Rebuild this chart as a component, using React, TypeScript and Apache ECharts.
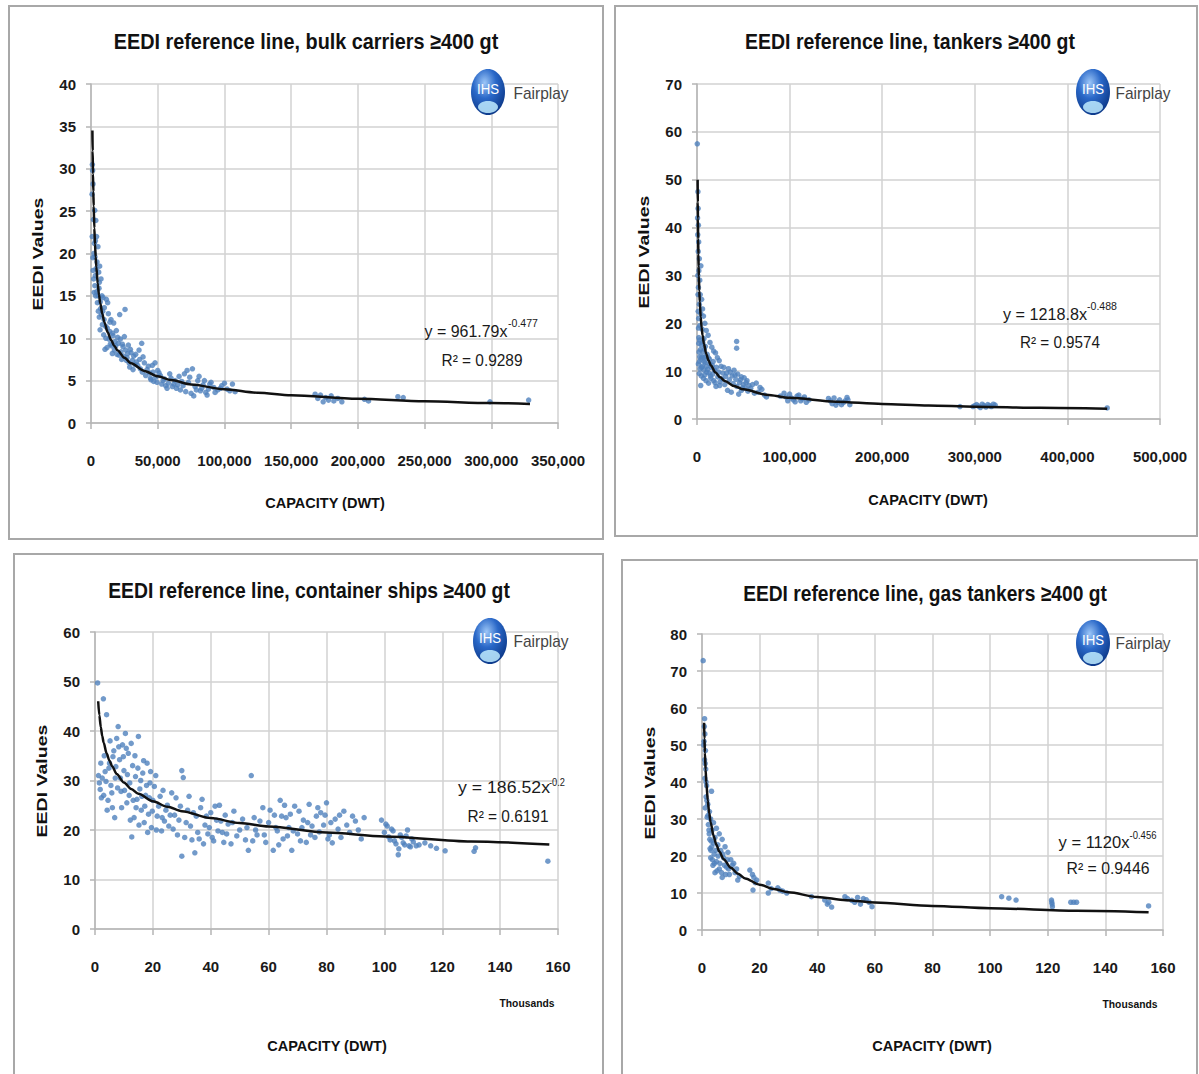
import React, { useEffect, useRef } from 'react';
import * as echarts from 'echarts';

// ---------- DATA ----------
const bulkPoints: [number, number][] = [
  [800, 27.0], [1000, 30.5], [1200, 29.8], [1500, 28.2], [1600, 18.0], [1800, 24.0], [2200, 20.0], [2500, 21.2],
  [2800, 25.1], [2900, 16.2], [3000, 19.6], [3200, 17.4], [3500, 15.0], [3600, 23.9], [4200, 22.0], [4300, 15.5],
  [4500, 19.0], [5200, 20.8], [5800, 17.8], [6000, 15.9], [6500, 18.5], [7000, 14.3], [7500, 17.0], [8200, 15.0],
  [9000, 14.8], [10000, 13.6], [11500, 14.6], [12500, 14.2], [13000, 12.9], [15000, 12.2], [17000, 11.8],
  [21500, 12.8], [25500, 13.4], [11000, 11.4], [14000, 10.8], [16500, 10.3], [19000, 10.9], [10500, 8.7],
  [12000, 8.9], [14500, 9.3], [18000, 9.6], [20000, 10.1], [22000, 9.9], [24000, 9.0], [26000, 8.6], [28000, 9.2],
  [16000, 8.2], [21000, 8.0], [23000, 7.5], [27000, 7.7], [30000, 8.3], [32000, 7.9], [34000, 7.2], [36000, 8.6],
  [38000, 9.4], [29000, 6.6], [31500, 6.3], [33000, 6.9], [37000, 6.4], [40000, 7.1], [42000, 6.3], [44000, 5.9],
  [46000, 6.8], [48000, 7.1], [50000, 6.2], [45000, 5.1], [47000, 4.9], [52000, 5.6], [54000, 5.0], [56000, 4.4],
  [58000, 4.7], [60000, 5.3], [62000, 4.6], [64000, 4.1], [66000, 5.5], [68000, 4.9], [70000, 5.8], [72000, 6.2],
  [74000, 5.4], [76000, 6.4], [77000, 3.2], [78000, 4.3], [80000, 5.0], [82000, 3.8], [84000, 4.5], [86000, 3.6],
  [88000, 4.0], [90000, 4.8], [92000, 4.2], [95000, 3.9], [98000, 4.4], [102000, 4.0], [106000, 4.6], [108000, 3.7],
  [5500, 13.2], [6200, 12.5], [6800, 11.0], [7800, 12.8], [8500, 11.6], [9500, 10.4], [9800, 12.2], [11200, 10.0],
  [12200, 11.2], [13500, 9.9], [14200, 11.9], [15500, 9.1], [16200, 10.6], [17500, 8.6], [18500, 9.1],
  [19500, 8.1], [20500, 9.4], [22500, 8.4], [23500, 9.3], [24500, 7.9], [25000, 10.2], [26500, 7.4], [27500, 8.2],
  [28500, 7.1], [29500, 8.7], [31000, 7.4], [33500, 8.1], [35000, 6.8], [36500, 7.5], [38500, 6.0], [39000, 7.8],
  [41000, 5.6], [43000, 6.7], [44500, 5.3], [46500, 6.0], [48500, 5.4], [49500, 4.8], [51000, 5.9], [53000, 4.6],
  [55000, 5.2], [57000, 4.1], [59000, 5.8], [61000, 4.3], [63000, 5.0], [65000, 4.5], [67000, 3.9], [69000, 4.4],
  [71000, 3.7], [73000, 4.8], [75000, 3.5], [79000, 3.9], [81000, 5.5], [83000, 4.1], [85000, 5.0], [87000, 3.3],
  [89000, 4.6], [93000, 3.6], [97000, 4.1], [100000, 4.7], [104000, 3.8],
  [900, 22.0], [1400, 19.5], [2000, 17.0], [2400, 15.4], [3300, 21.5], [3800, 18.2], [4800, 14.2], [5300, 15.0],
  [6200, 16.6], [7200, 13.5], [8800, 13.2],
  [168000, 3.4], [170000, 2.9], [172000, 3.3], [174000, 2.5], [176000, 3.0], [178000, 2.7], [180000, 3.2],
  [182000, 2.6], [185000, 2.9], [188000, 2.5], [205000, 2.8], [208000, 2.6], [230000, 3.1], [234000, 3.0],
  [299000, 2.5], [328000, 2.7],
];
const bulkTrend: [number, number][] = [
  [1050, 34.5], [1250, 32.1], [1500, 29.4], [1750, 27.3], [2000, 25.6], [2500, 23.0], [3000, 21.1], [3500, 19.6],
  [4000, 18.4], [5000, 16.5], [6000, 15.1], [7000, 14.1], [8500, 12.85], [10000, 11.9], [12500, 10.7],
  [15000, 9.8], [17500, 9.1], [20000, 8.55], [25000, 7.7], [30000, 7.05], [40000, 6.15], [50000, 5.52],
  [60000, 5.06], [75000, 4.55], [100000, 3.97], [125000, 3.57], [150000, 3.27], [200000, 2.85], [250000, 2.56],
  [300000, 2.35], [329000, 2.25],
];

const tankerPoints: [number, number][] = [
  [300, 57.5], [1000, 47.5], [1200, 44.0], [1500, 40.5], [1800, 37.0], [1300, 35.0], [2500, 33.5], [2000, 31.0],
  [3000, 29.0], [4200, 32.0], [1500, 27.5], [3500, 26.0], [5000, 25.0], [2500, 24.0], [6000, 23.0], [4000, 22.0],
  [7000, 21.5], [1800, 21.0], [8500, 20.0], [3000, 19.5], [5500, 18.8], [10000, 18.5], [12000, 17.5], [2000, 17.0],
  [7500, 16.8], [14000, 16.0], [4500, 15.5], [9000, 15.2], [16000, 15.0], [18000, 14.2], [6500, 14.0], [11000, 13.5],
  [20000, 13.8], [3000, 13.0], [13500, 12.5], [22000, 12.8], [8000, 12.0], [24000, 12.2], [1500, 11.5],
  [16500, 11.2], [26000, 11.0], [5000, 10.8], [19000, 10.2], [10500, 9.8], [28000, 9.6], [2500, 9.5], [14500, 9.0],
  [22500, 8.8], [7000, 8.5], [31000, 8.9], [18000, 8.0], [12500, 7.5], [25000, 7.8], [4000, 7.0], [20500, 6.8],
  [34000, 10.5], [36000, 9.8], [38000, 9.0], [40000, 10.2], [42000, 8.3], [44000, 9.4], [46000, 7.6], [48000, 8.8],
  [50000, 7.2], [52000, 6.5], [54000, 8.0], [42800, 16.2], [42800, 14.8], [33000, 6.0], [37000, 5.6], [45000, 5.2],
  [48000, 6.0], [56000, 7.0], [64000, 7.5], [66000, 5.6], [70000, 6.2], [73000, 5.0], [75000, 4.6], [90000, 4.8],
  [94000, 5.4], [98000, 3.8], [102000, 4.4], [106000, 3.6], [110000, 5.0], [114000, 4.2], [118000, 3.5],
  [121000, 4.0], [142000, 4.3], [146000, 3.2], [150000, 2.9], [154000, 4.0], [158000, 3.4], [162000, 4.5],
  [165000, 3.0],
  [600, 42.0], [800, 38.5], [900, 30.0], [1100, 26.0], [1300, 22.5], [1600, 19.0], [1900, 15.8], [2200, 14.0],
  [2600, 12.0], [2800, 16.5], [3300, 10.5], [3700, 14.5], [4300, 12.5], [4700, 9.0], [5200, 13.0], [5800, 11.0],
  [6200, 16.0], [6800, 12.8], [7300, 10.2], [7800, 14.6], [8300, 9.2], [8800, 11.8], [9300, 13.0], [9700, 8.0],
  [10200, 11.0], [11500, 10.4], [12200, 12.8], [13000, 9.6], [13800, 11.5], [15000, 8.5], [15500, 10.8],
  [17000, 9.4], [17500, 12.0], [19500, 7.6], [21000, 10.8], [23500, 9.8], [24500, 7.0], [27000, 8.4],
  [29000, 10.8], [30000, 7.2], [32000, 9.6], [35000, 8.2], [39000, 7.4], [41000, 9.2], [43000, 6.8], [47000, 8.2],
  [49000, 6.5], [51000, 8.6], [53000, 7.6], [55000, 5.8], [58000, 6.4], [60000, 7.2], [62000, 5.4], [68000, 6.6],
  [96000, 4.6], [100000, 5.2], [104000, 4.0], [108000, 4.8], [112000, 3.8], [116000, 4.6], [144000, 3.8],
  [148000, 4.4], [152000, 3.5], [156000, 3.0], [160000, 3.8], [163000, 4.0],
  [284000, 2.6], [298000, 2.6], [300000, 2.8], [302000, 3.0], [304000, 2.7], [306000, 2.4], [308000, 3.1],
  [310000, 2.8], [312000, 2.5], [314000, 3.0], [316000, 2.8], [318000, 2.6], [320000, 3.1], [322000, 2.9],
  [443000, 2.3],
];
const tankerTrend: [number, number][] = [
  [700, 50], [850, 45.3], [1000, 41.9], [1250, 37.6], [1500, 34.4], [1750, 31.9], [2000, 29.9], [2500, 26.8],
  [3000, 24.5], [4000, 21.3], [5000, 19.1], [6000, 17.5], [7500, 15.7], [10000, 13.6], [12500, 12.2],
  [15000, 11.2], [20000, 9.7], [25000, 8.7], [30000, 7.96], [40000, 6.92], [50000, 6.2], [75000, 5.08],
  [100000, 4.42], [150000, 3.62], [200000, 3.15], [250000, 2.83], [300000, 2.58], [370000, 2.34], [443000, 2.14],
];

const containerPoints: [number, number][] = [
  [0.9, 49.7], [2.9, 46.5], [4.0, 43.3], [1.5, 29.5], [1.8, 28.2], [2.5, 30.5], [3.0, 27.0], [3.5, 31.8],
  [4.5, 26.0], [5.0, 33.5], [5.5, 29.0], [6.0, 24.5], [6.5, 36.0], [7.0, 30.5], [7.5, 38.5], [8.0, 40.9],
  [8.5, 34.2], [9.0, 27.8], [9.5, 37.2], [10.0, 32.0], [10.5, 39.5], [11.0, 25.5], [11.5, 35.5], [12.0, 29.5],
  [12.7, 18.6], [13.0, 33.0], [13.5, 22.5], [14.0, 30.8], [14.5, 26.2], [15.0, 38.9], [15.5, 28.3], [16.0, 24.0],
  [16.5, 31.5], [17.0, 21.5], [17.5, 27.0], [18.0, 33.5], [18.5, 23.2], [19.0, 29.5], [19.5, 20.5], [20.0, 26.0],
  [21.0, 31.0], [21.5, 22.8], [22.0, 24.8], [23.0, 19.8], [23.5, 28.0], [24.0, 21.8], [25.0, 25.0], [26.0, 23.0],
  [27.0, 20.2], [28.0, 26.5], [29.0, 22.0], [30.0, 32.0], [30.5, 30.6], [30.0, 14.7], [31.0, 18.5], [32.0, 24.0],
  [33.0, 20.8], [34.5, 15.4], [35.0, 22.8], [36.0, 18.2], [37.0, 26.2], [38.0, 21.0], [39.0, 19.2], [40.0, 23.5],
  [41.0, 17.8], [42.0, 22.0], [43.0, 25.0], [44.0, 19.5], [46.0, 21.2], [47.0, 17.2], [48.0, 23.8], [50.0, 20.0],
  [52.0, 18.0], [53.0, 15.9], [54.0, 31.0], [55.0, 22.5], [56.0, 19.0], [58.0, 24.5], [59.0, 17.5], [60.0, 21.5],
  [61.6, 15.9], [62.0, 23.0], [63.0, 19.8], [64.0, 26.0], [65.0, 18.2], [66.0, 22.5], [67.0, 20.5], [68.0, 15.9],
  [69.0, 24.8], [70.0, 19.2], [72.0, 22.0], [73.0, 17.5], [74.0, 25.2], [75.0, 20.8], [76.0, 18.5], [78.0, 23.5],
  [79.0, 21.0], [80.0, 25.5], [81.0, 19.0], [82.0, 17.4], [83.0, 22.2], [84.0, 20.2], [86.0, 23.8], [88.0, 19.5],
  [90.0, 21.8], [92.0, 18.2], [93.0, 22.5], [99.0, 22.0], [100.0, 19.5], [101.0, 20.8], [102.0, 18.0],
  [103.0, 19.8], [104.0, 17.2], [104.8, 15.0], [105.0, 16.2], [106.0, 18.5], [107.0, 17.0], [108.0, 20.0],
  [109.0, 16.6], [110.0, 17.6], [112.0, 17.0], [114.0, 17.4], [116.0, 16.8], [118.0, 16.3], [121.0, 15.8],
  [131.0, 15.7], [131.5, 16.4], [156.5, 13.7],
  [1.2, 31.0], [2.0, 33.5], [2.2, 26.5], [3.2, 35.0], [3.8, 29.8], [4.2, 24.0], [4.8, 32.5], [5.2, 38.0],
  [5.8, 27.5], [6.2, 34.8], [6.8, 22.5], [7.2, 32.8], [7.8, 28.5], [8.2, 36.8], [8.8, 30.5], [9.2, 24.5],
  [9.8, 34.8], [10.2, 28.0], [10.8, 36.5], [11.2, 31.2], [11.8, 27.0], [12.2, 22.0], [12.5, 37.5], [13.2, 26.0],
  [13.8, 35.0], [14.2, 24.5], [14.8, 32.5], [15.2, 21.0], [15.8, 30.0], [16.2, 26.8], [16.8, 34.0], [17.2, 24.8],
  [17.8, 29.0], [18.2, 19.5], [18.8, 26.5], [19.2, 31.8], [19.8, 23.8], [20.5, 28.8], [21.2, 20.0], [22.5, 26.8],
  [23.2, 22.5], [24.5, 24.0], [25.5, 20.8], [26.5, 27.5], [27.5, 23.0], [28.5, 19.0], [29.5, 24.8], [31.5, 21.5],
  [32.5, 26.8], [33.5, 18.0], [34.0, 23.5], [35.5, 19.5], [36.5, 24.5], [37.5, 17.2], [38.5, 22.8], [39.5, 20.5],
  [40.5, 18.5], [41.5, 24.8], [42.5, 19.8], [43.5, 21.8], [44.5, 17.5], [45.0, 23.0], [45.5, 19.2], [47.5, 21.5],
  [49.0, 18.8], [51.0, 22.2], [52.5, 20.5], [54.5, 17.8], [55.5, 20.0], [57.0, 21.8], [58.5, 19.0], [60.5, 24.0],
  [62.5, 20.5], [63.5, 17.0], [64.5, 22.8], [65.5, 25.0], [66.5, 18.8], [67.5, 23.2], [68.5, 19.8], [70.5, 23.8],
  [71.0, 17.8], [71.5, 20.5], [73.5, 21.5], [74.5, 19.0], [76.5, 22.8], [77.0, 24.5], [77.5, 19.6], [79.5, 23.0],
  [80.5, 18.2], [81.5, 21.5], [84.5, 23.0], [85.0, 18.5], [87.0, 21.0], [89.0, 22.8], [91.0, 20.0], [100.5, 21.2],
  [101.5, 18.6], [102.5, 20.2], [103.5, 17.8], [105.5, 19.0], [106.5, 17.4], [107.5, 18.8], [108.5, 16.8],
  [109.5, 18.2], [111.0, 16.8],
];
const containerTrend: [number, number][] = [
  [1.1, 46], [1.5, 43.2], [2, 40.8], [2.5, 39.0], [3, 37.65], [4, 35.5], [5, 34.0], [6, 32.8], [7.5, 31.3],
  [10, 29.6], [12.5, 28.3], [15, 27.3], [20, 25.8], [25, 24.7], [30, 23.8], [40, 22.4], [50, 21.4], [60, 20.7],
  [80, 19.5], [100, 18.7], [130, 17.7], [157, 17.05],
];

const gasPoints: [number, number][] = [
  [0.4, 72.8], [0.9, 57.1], [0.8, 55.0], [1.0, 53.0], [0.7, 51.0], [1.2, 48.5], [0.9, 46.0], [1.3, 43.5],
  [1.0, 41.0], [1.6, 39.0], [3.3, 37.5], [1.4, 36.0], [2.0, 34.0], [1.1, 33.0], [2.6, 32.0], [1.8, 30.5],
  [3.0, 30.0], [2.2, 28.5], [4.0, 29.0], [3.5, 27.0], [5.0, 27.5], [2.5, 26.0], [4.5, 25.0], [6.0, 26.0],
  [3.2, 24.0], [5.5, 23.0], [7.0, 24.5], [2.8, 22.0], [6.5, 21.5], [8.0, 22.5], [4.2, 20.5], [9.0, 21.0],
  [3.0, 19.5], [5.0, 18.5], [7.5, 19.5], [10.0, 19.0], [3.8, 17.5], [6.0, 16.5], [8.5, 17.0], [11.0, 18.0],
  [4.5, 15.5], [9.5, 15.0], [12.0, 16.5], [12.4, 13.5], [7.0, 14.2], [16.6, 16.2], [17.5, 15.0], [19.0, 13.5],
  [17.7, 10.8], [18.0, 14.2], [23.0, 12.7], [23.0, 10.0], [26.3, 11.4], [28.0, 10.5], [29.4, 10.0], [38.0, 9.0],
  [42.6, 8.1], [43.5, 7.0], [45.0, 6.2], [49.6, 9.0], [52.0, 8.0], [54.0, 8.8], [55.0, 7.0], [57.0, 8.2],
  [59.0, 6.3], [58.0, 7.5],
  [0.6, 50.0], [1.1, 45.0], [1.4, 40.0], [1.7, 35.0], [2.1, 31.0], [2.4, 27.0], [2.7, 24.5], [3.1, 21.5],
  [3.4, 22.5], [3.6, 19.0], [4.0, 23.5], [4.3, 18.0], [4.8, 21.5], [5.2, 16.0], [5.6, 20.0], [6.2, 18.0],
  [6.8, 15.5], [7.2, 20.5], [7.8, 17.5], [8.2, 15.0], [8.8, 19.0], [9.2, 16.5], [10.5, 17.5], [11.5, 15.5],
  [13.0, 14.5], [18.5, 12.8], [24.0, 11.2], [27.0, 10.8], [44.0, 7.5], [50.5, 8.5], [53.0, 7.5], [56.0, 8.5],
  [104.0, 9.0], [106.5, 8.6], [109.0, 8.1], [121.3, 8.1], [121.4, 7.5], [121.5, 7.0], [121.6, 6.3],
  [128.0, 7.5], [129.0, 7.5], [130.0, 7.5], [155.0, 6.5],
];
const gasTrend: [number, number][] = [
  [0.72, 56], [0.85, 51.7], [1, 48], [1.25, 43.3], [1.5, 39.9], [2, 35], [2.5, 31.6], [3, 29.1], [4, 25.5],
  [5, 23.05], [6, 21.2], [7.5, 19.15], [10, 16.8], [12.5, 15.2], [15, 13.95], [20, 12.25], [25, 11.1], [30, 10.2],
  [40, 8.93], [50, 8.06], [60, 7.42], [80, 6.51], [100, 5.88], [130, 5.22], [155, 4.82],
];

const chartTitles = [
  'EEDI reference line, bulk carriers ≥400 gt',
  'EEDI reference line, tankers ≥400 gt',
  'EEDI reference line, container ships ≥400 gt',
  'EEDI reference line, gas tankers ≥400 gt',
];
const equationBases = ['y = 961.79x', 'y = 1218.8x', 'y = 186.52x', 'y = 1120x'];
const equationExponents = ['-0.477', '-0.488', '-0.2', '-0.456'];
const rSquaredLabels = ['R² = 0.9289', 'R² = 0.9574', 'R² = 0.6191', 'R² = 0.9446'];
const yAxisName = 'EEDI Values';
const xAxisName = 'CAPACITY (DWT)';
const unitNote = 'Thousands';
const logoMark = 'IHS';
const logoWord = 'Fairplay';

// ---------- LAYOUT ----------
const panels = [
  {
    grid: { left: 91, top: 84, width: 467, height: 339 }, xMax: 350000, xInt: 50000, yMax: 40, yInt: 5, commas: true,
    border: [9, 6, 594, 533], title: [306, 41, 385], yName: [38, 254], xName: [325, 503], unit: null,
    eq: [466, 331, 83], sup: [523, 324, 30], r2: [482, 360, 81], logo: [488, 92], word: [541, 93],
  },
  {
    grid: { left: 697, top: 84, width: 463, height: 335 }, xMax: 500000, xInt: 100000, yMax: 70, yInt: 10, commas: true,
    border: [615, 6, 582, 530], title: [910, 41, 330], yName: [644, 252], xName: [928, 500], unit: null,
    eq: [1045, 314, 84], sup: [1102, 307, 30], r2: [1060, 342, 80], logo: [1093, 92], word: [1143, 93],
  },
  {
    grid: { left: 95, top: 632, width: 463, height: 297 }, xMax: 160, xInt: 20, yMax: 60, yInt: 10, commas: false,
    border: [14, 554, 589, 540], title: [309, 590, 402], yName: [42, 781], xName: [327, 1046], unit: [527, 1004],
    eq: [504, 788, 92], sup: [557, 782, 16], r2: [508, 816, 81], logo: [490, 641], word: [541, 641],
  },
  {
    grid: { left: 702, top: 634, width: 461, height: 296 }, xMax: 160, xInt: 20, yMax: 80, yInt: 10, commas: false,
    border: [622, 560, 575, 540], title: [925, 593, 364], yName: [650, 783], xName: [932, 1046], unit: [1130, 1005],
    eq: [1094, 842, 71], sup: [1143, 835, 27], r2: [1108, 868, 83], logo: [1093, 643], word: [1143, 643],
  },
];

const FONT = 'Liberation Sans';
let measureCtx: CanvasRenderingContext2D | null = null;
function measure(text: string, size: number, weight: string) {
  if (!measureCtx) measureCtx = document.createElement('canvas').getContext('2d');
  measureCtx!.font = `${weight} ${size}px "${FONT}"`;
  return measureCtx!.measureText(text).width || 1;
}

function fitText(text: string, x: number, y: number, width: number, size: number, weight: string, fill: string, rotation = 0) {
  const w = measure(text, size, weight);
  return {
    type: 'text', x, y, rotation, scaleX: width / w, z: 100,
    style: { text, fontFamily: FONT, fontSize: size, fontWeight: weight, fill, align: 'center', verticalAlign: 'middle' },
  };
}

export default function App() {
  const ref = useRef<HTMLDivElement>(null);
  useEffect(() => {
    document.body.style.margin = '0';
    const chart = echarts.init(ref.current!, null, { renderer: 'svg' });
    const pointSets = [bulkPoints, tankerPoints, containerPoints, gasPoints];
    const trendSets = [bulkTrend, tankerTrend, containerTrend, gasTrend];

    const graphics: any[] = [];
    panels.forEach((p, i) => {
      const [bx, by, bw, bh] = p.border;
      graphics.push({ type: 'rect', shape: { x: bx, y: by, width: bw, height: bh }, z: 1,
        style: { fill: 'none', stroke: '#a8a8a8', lineWidth: 2 } });
      graphics.push(fitText(chartTitles[i], p.title[0], p.title[1], p.title[2], 22, 'bold', '#111'));
      graphics.push(fitText(yAxisName, p.yName[0], p.yName[1], 113, 14, 'bold', '#111', Math.PI / 2));
      graphics.push(fitText(xAxisName, p.xName[0], p.xName[1], 120, 15, 'bold', '#111'));
      if (p.unit) graphics.push(fitText(unitNote, p.unit[0], p.unit[1], 55, 10, 'bold', '#111'));
      graphics.push(fitText(equationBases[i], p.eq[0], p.eq[1], p.eq[2], 16, 'normal', '#1a1a1a'));
      graphics.push(fitText(equationExponents[i], p.sup[0], p.sup[1], p.sup[2], 10, 'normal', '#1a1a1a'));
      graphics.push(fitText(rSquaredLabels[i], p.r2[0], p.r2[1], p.r2[2], 16, 'normal', '#1a1a1a'));
      const [lx, ly] = p.logo;
      graphics.push({ type: 'ellipse', shape: { cx: lx, cy: ly, rx: 17, ry: 23 }, z: 99,
        style: { fill: new echarts.graphic.RadialGradient(0.4, 0.3, 0.75, [
          { offset: 0, color: '#9cc6f7' }, { offset: 0.45, color: '#2a68c8' }, { offset: 1, color: '#0a3584' }]) } });
      graphics.push({ type: 'ellipse', shape: { cx: lx, cy: ly + 15, rx: 10, ry: 6 }, z: 99,
        style: { fill: 'rgba(190,235,255,0.85)' } });
      graphics.push(fitText(logoMark, lx, ly - 3, 22, 15, 'normal', '#ffffff'));
      graphics.push(fitText(logoWord, p.word[0], p.word[1], 55, 16, 'normal', '#444'));
    });

    const axisLine = { show: true, lineStyle: { color: '#b5b5b5', width: 1.5 } };
    const splitLine = { show: true, lineStyle: { color: '#d2d2d2', width: 1.5 } };
    const labelBase = { fontFamily: FONT, fontWeight: 'bold', fontSize: 15, color: '#1a1a1a' };

    const option: any = {
      animation: false,
      backgroundColor: '#ffffff',
      grid: panels.map((p) => ({ ...p.grid, containLabel: false })),
      xAxis: panels.map((p, i) => ({
        type: 'value', gridIndex: i, min: 0, max: p.xMax, interval: p.xInt,
        axisLine, splitLine,
        axisTick: { show: true, inside: false, length: 6, lineStyle: { color: '#b5b5b5', width: 1.5 } },
        axisLabel: { ...labelBase, margin: 30, showMaxLabel: true,
          formatter: (v: number) => (p.commas ? v.toLocaleString('en-US') : String(v)) },
      })),
      yAxis: panels.map((p, i) => ({
        type: 'value', gridIndex: i, min: 0, max: p.yMax, interval: p.yInt,
        axisLine, splitLine,
        axisTick: { show: true, inside: false, length: 5, lineStyle: { color: '#b5b5b5', width: 1.5 } },
        axisLabel: { ...labelBase, margin: 15 },
      })),
      series: [
        ...pointSets.map((data, i) => ({
          type: 'scatter', xAxisIndex: i, yAxisIndex: i, data, symbol: 'circle', symbolSize: 5.5,
          itemStyle: { color: '#4f81bd' }, z: 2,
        })),
        ...trendSets.map((data, i) => ({
          type: 'line', xAxisIndex: i, yAxisIndex: i, data, symbol: 'none', smooth: 0.3, smoothMonotone: 'x',
          lineStyle: { color: '#111', width: 2.5 }, z: 3,
        })),
      ],
      graphic: graphics,
    };
    chart.setOption(option);
    return () => chart.dispose();
  }, []);
  return <div ref={ref} style={{ position: 'absolute', left: 0, top: 0, width: 1199, height: 1074, background: '#fff' }} />;
}
